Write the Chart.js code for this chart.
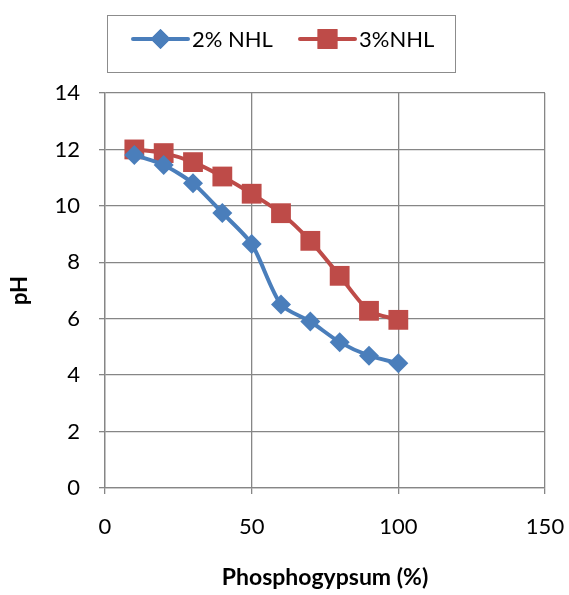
<!DOCTYPE html>
<html>
<head>
<meta charset="utf-8">
<script src="https://cdn.jsdelivr.net/npm/chart.js@4/dist/chart.umd.min.js"></script>
<style>
    html, body { margin: 0; padding: 0; background: #fff; }
    #wrap { width: 569px; height: 595px; }
</style>
</head>
<body>
<div id="wrap"><canvas id="chart"></canvas></div>
<script>
// phosphogypsum content (%)
var gypsum = [10, 20, 30, 40, 50, 60, 70, 80, 90, 100];
// pH readings
var ph2 = [11.8, 11.45, 10.8, 9.75, 8.65, 6.5, 5.9, 5.17, 4.69, 4.42];
var ph3 = [12.0, 11.87, 11.55, 11.04, 10.43, 9.74, 8.76, 7.52, 6.28, 5.96];
var seriesNames = ["2% NHL", "3%NHL"];

var FONT = "Lato, 'Open Sans', sans-serif";
var BLUE = "#4A7EBB";
var RED = "#BE4B48";
var GRID = "#868686";

function toPoints(xs, ys) {
    var pts = [];
    for (let i = 0; i < xs.length; i++) {
        pts.push({ x: xs[i], y: ys[i] });
    }
    return pts;
}

// legend drawn as line + marker inside a bordered box, like the original
var boxLegend = {
    id: "boxLegend",
    afterDraw: function (chart) {
        var ctx = chart.ctx;
        ctx.save();
        ctx.strokeStyle = "#8c8c8c";
        ctx.lineWidth = 1;
        ctx.strokeRect(107.5, 15.5, 348, 57);

        var items = [
            { x: 133, color: BLUE, style: "rectRot", r: 10, text: seriesNames[0] },
            { x: 300, color: RED, style: "rect", r: 14, text: seriesNames[1] },
        ];
        var y = 39;
        items.forEach(function (it) {
            ctx.strokeStyle = it.color;
            ctx.lineWidth = 4;
            ctx.lineCap = "round";
            ctx.beginPath();
            ctx.moveTo(it.x, y);
            ctx.lineTo(it.x + 55, y);
            ctx.stroke();
            ctx.fillStyle = it.color;
            Chart.helpers.drawPoint(ctx, { pointStyle: it.style, radius: it.r, rotation: 0, borderWidth: 0 }, it.x + 27.5, y);
            ctx.fill();
            ctx.fillStyle = "#000";
            ctx.font = "22px " + FONT;
            ctx.textBaseline = "middle";
            ctx.fillText(it.text, it.x + 59, y + 1);
        });
        ctx.restore();
    },
};

var cfg = {
    type: "line",
    data: {
        datasets: [
            {
                label: seriesNames[0],
                data: toPoints(gypsum, ph2),
                borderColor: BLUE,
                backgroundColor: BLUE,
                borderWidth: 4,
                pointStyle: "rectRot",
                pointRadius: 10,
                pointBorderWidth: 0,
                tension: 0.25,
            },
            {
                label: seriesNames[1],
                data: toPoints(gypsum, ph3),
                borderColor: RED,
                backgroundColor: RED,
                borderWidth: 4,
                pointStyle: "rect",
                pointRadius: 14,
                pointBorderWidth: 0,
                tension: 0.25,
            },
        ],
    },
    options: {
        responsive: true,
        maintainAspectRatio: false,
        animation: false,
        layout: {
            padding: { top: 93, right: 24, left: 0, bottom: 0 },
        },
        plugins: {
            legend: { display: false },
            tooltip: { enabled: false },
        },
        scales: {
            x: {
                type: "linear",
                min: 0,
                max: 150,
                ticks: {
                    stepSize: 50,
                    padding: 20,
                    color: "#000",
                    font: { family: FONT, size: 22 },
                },
                grid: { color: GRID, lineWidth: 1.3, tickLength: 6 },
                border: { color: GRID, width: 1.3 },
                title: {
                    display: true,
                    text: "Phosphogypsum (%)",
                    color: "#000",
                    font: { family: FONT, size: 23, weight: "bold" },
                    padding: { top: 0, bottom: 4 },
                },
                afterFit: function (scale) {
                    scale.height = 107;
                    scale.paddingLeft = 0;
                    scale.paddingRight = 0;
                },
            },
            y: {
                min: 0,
                max: 14,
                ticks: {
                    stepSize: 2,
                    padding: 19,
                    color: "#000",
                    font: { family: FONT, size: 22 },
                },
                grid: { color: GRID, lineWidth: 1.3, tickLength: 6 },
                border: { color: GRID, width: 1.3 },
                title: {
                    display: true,
                    text: "pH",
                    color: "#000",
                    font: { family: FONT, size: 22, weight: "bold" },
                    padding: { top: 7, bottom: 0 },
                },
                afterFit: function (scale) {
                    scale.width = 105;
                    scale.paddingTop = 0;
                    scale.paddingBottom = 0;
                },
            },
        },
    },
    plugins: [boxLegend],
};

new Chart(document.getElementById("chart"), cfg);
</script>
</body>
</html>
